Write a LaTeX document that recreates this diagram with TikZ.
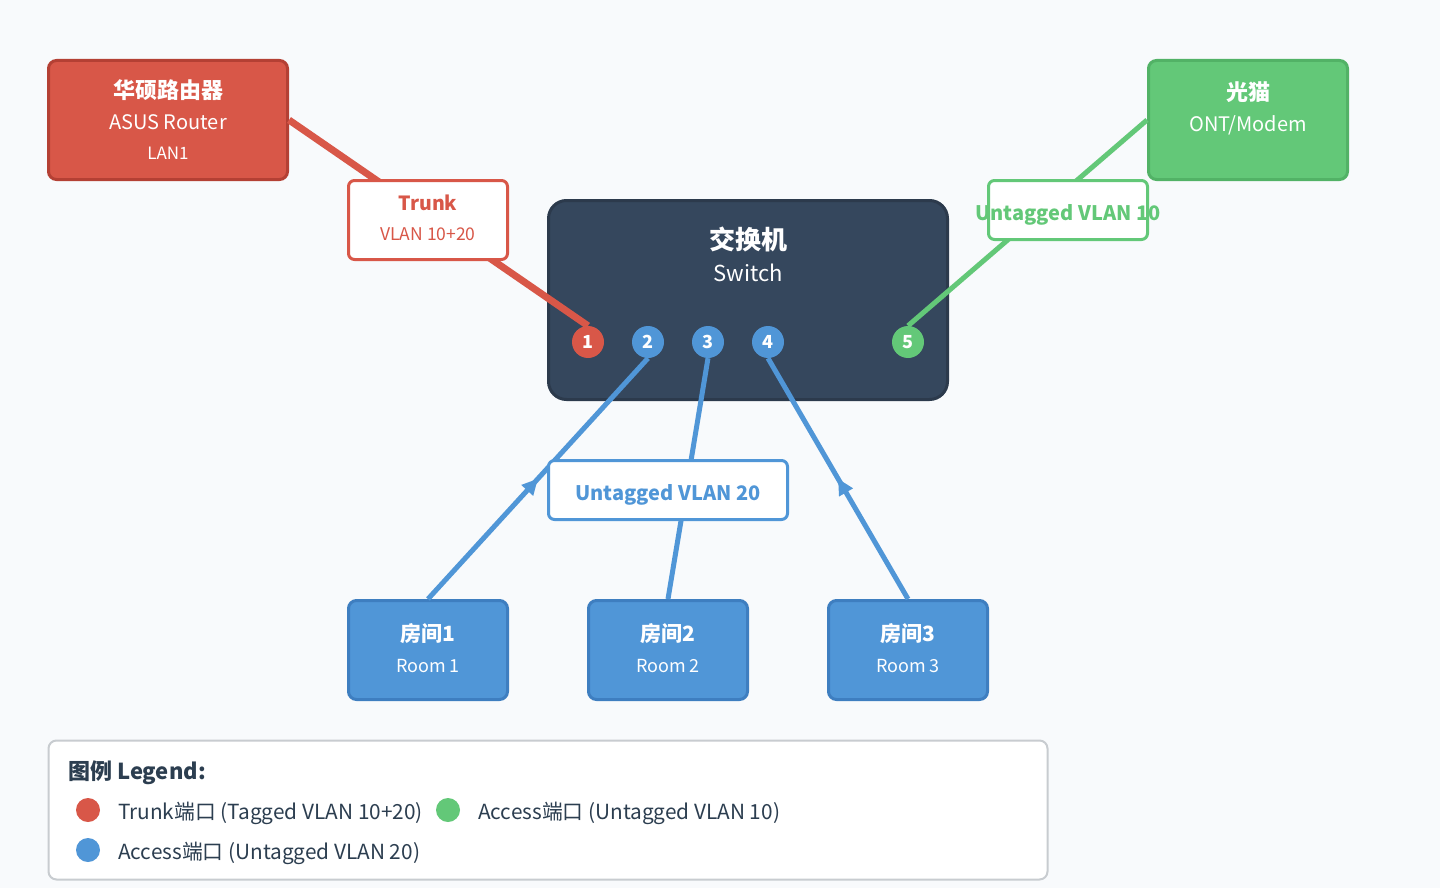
\documentclass[tikz,border=0pt]{standalone}
\usepackage{fontspec}
\setmainfont{Noto Sans CJK SC}
\usetikzlibrary{arrows.meta,decorations.markings}

\begin{document}
\begin{tikzpicture}[x=1pt,y=-1pt,
        box/.style={draw,rounded corners=8pt,line width=3pt,inner sep=0pt,align=center,text=white},
        port/.style={circle,minimum size=32pt,inner sep=0pt,text=white,font=\bfseries\fontsize{18}{18}\selectfont},
        tag/.style={draw,fill=white,rounded corners=6pt,line width=3pt,inner sep=0pt,align=center},
        link/.style={line width=5pt},
        midarrow/.style={postaction={decorate},decoration={markings,
            mark=at position 0.5 with {\arrow{Triangle[length=16pt,width=15pt]}}}}]
        %colores
        \definecolor{bg}{RGB}{248,250,252}
        \definecolor{tred}{RGB}{216,87,72}
        \definecolor{dred}{RGB}{180,64,52}
        \definecolor{tgreen}{RGB}{99,200,120}
        \definecolor{dgreen}{RGB}{82,178,102}
        \definecolor{tblue}{RGB}{80,150,215}
        \definecolor{dblue}{RGB}{62,126,192}
        \definecolor{swfill}{RGB}{53,71,93}
        \definecolor{swdraw}{RGB}{44,58,76}
        \definecolor{ink}{RGB}{44,62,80}
        \definecolor{frame}{RGB}{200,204,208}

        % Fondo
        \fill[bg] (0,0) rectangle (1440,888);
        \useasboundingbox (0,0) rectangle (1440,888);

        % Equipos
        \node[box,fill=tred,draw=dred,minimum width=239pt,minimum height=119pt,
            font=\fontsize{20}{30.5}\selectfont] (router) at (168,120)
            {{\bfseries\fontsize{22}{30.5}\selectfont 华硕路由器}\\ASUS Router\\{\fontsize{17}{30.5}\selectfont LAN1}};
        \node[box,fill=tgreen,draw=dgreen,minimum width=199pt,minimum height=119pt] (modem) at (1248,120) {};
        \node[text=white,align=center,font=\fontsize{20}{31}\selectfont] (modemname) at (1248,108)
            {{\bfseries\fontsize{22}{31}\selectfont 光猫}\\ONT/Modem};
        \node[box,fill=swfill,draw=swdraw,rounded corners=18pt,minimum width=399pt,minimum height=199pt] (sw) at (748,300) {};
        \node[text=white,align=center,font=\fontsize{22}{32}\selectfont] (swname) at (748,254)
            {{\bfseries\fontsize{26}{32}\selectfont 交换机}\\Switch};

        % Puertos
        \foreach \n/\x/\c in {1/588/tred,2/648/tblue,3/708/tblue,4/768/tblue,5/908/tgreen}
            \node[port,fill=\c] (p\n) at (\x,342) {\n};

        % Habitaciones
        \foreach \n/\x in {1/428,2/668,3/908}{
            \node[box,fill=tblue,draw=dblue,minimum width=159pt,minimum height=99pt] (r\n) at (\x,650) {};
            \node[text=white,align=center,font=\fontsize{18}{31}\selectfont] (r\n name) at (\x,648)
                {{\bfseries\fontsize{21}{31}\selectfont 房间\n}\\Room \n};
        }

        % Enlaces
        \draw[tred,line width=7pt] (router.east) -- (p1.north);
        \draw[tgreen,link] (modem.west) -- (p5.north);
        \foreach \r/\p in {1/2,2/3,3/4}
            \draw[tblue,link,midarrow] (r\r.north) -- (p\p.south);

        % Etiquetas
        \node[tag,draw=tred,text=tred,minimum width=159pt,minimum height=79pt,
            font=\fontsize{17.5}{30}\selectfont] (trunk) at (428,220) {};
        \node[text=tred,align=center,font=\fontsize{17.5}{30}\selectfont] (trunkname) at (428,218)
            {{\bfseries\fontsize{19.5}{30}\selectfont Trunk}\\VLAN 10+20};
        \node[tag,draw=tgreen,minimum width=159pt,minimum height=59pt] (vlan10) at (1068,210) {};
        \node[text=tgreen,font=\bfseries\fontsize{20}{24}\selectfont] (vlan10name) at (1068,215) {Untagged VLAN 10};
        \node[tag,draw=tblue,minimum width=239pt,minimum height=59pt] (vlan20) at (668,490) {};
        \node[text=tblue,font=\bfseries\fontsize{20}{24}\selectfont] (vlan20name) at (668,495) {Untagged VLAN 20};

        % Leyenda
        \node[draw=frame,fill=white,line width=2pt,rounded corners=8pt,
            minimum width=999pt,minimum height=139pt] (legend) at (548,810) {};
        \node[anchor=west,text=ink,font=\bfseries\fontsize{22}{26}\selectfont,inner sep=0pt] (legtitle) at (68,773) {图例 Legend:};
        \foreach \c/\x/\y/\t in {tred/88/810/{Trunk端口 (Tagged VLAN 10+20)},
                                 tgreen/448/810/{Access端口 (Untagged VLAN 10)},
                                 tblue/88/850/{Access端口 (Untagged VLAN 20)}}{
            \fill[\c] (\x,\y) circle (12);
            \node[anchor=west,text=ink,font=\fontsize{20.8}{24}\selectfont,inner sep=0pt] at (\x+30,\y+3) {\t};
        }
    \end{tikzpicture}
\end{document}
